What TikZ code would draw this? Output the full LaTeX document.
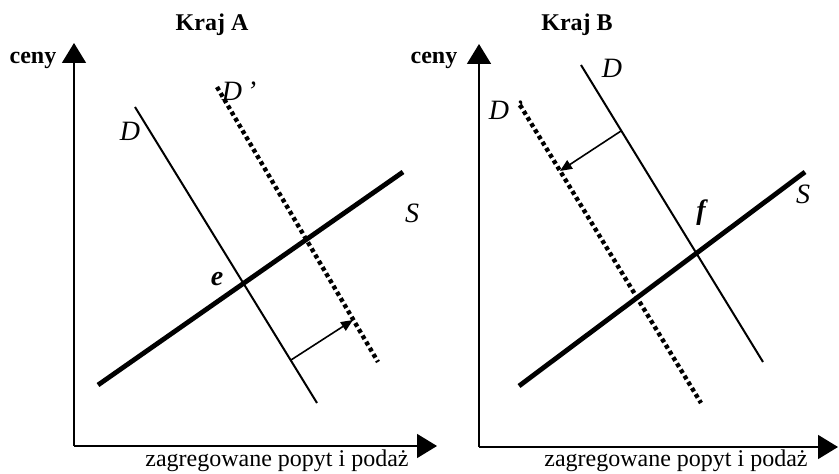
\documentclass[tikz,border=0pt]{standalone}
\usepackage{fontspec}
\setmainfont{Liberation Serif}
\usepackage{tikz}
\usetikzlibrary{arrows.meta, positioning, calc}

\begin{document}
\begin{tikzpicture}[
    x=0.5pt, y=-0.5pt,
    axisline/.style={line width=0.8pt, -{Triangle[length=10pt, width=12pt]}},
    demandline/.style={line width=1pt},
    newdemand/.style={line width=2.2pt, dash pattern=on 2pt off 1.6pt},
    supplyline/.style={line width=2.4pt},
    shiftarrow/.style={line width=0.8pt, -{Triangle[length=6pt, width=5pt]}},
    title/.style={font=\fontsize{12}{14}\selectfont\bfseries},
    curvelabel/.style={font=\fontsize{14}{16}\selectfont\itshape},
    pointlabel/.style={font=\fontsize{14}{16}\selectfont\bfseries\itshape},
    axislabel/.style={font=\fontsize{12}{14}\selectfont}
]
    \useasboundingbox (0,0) rectangle (839,474);

    % Kraj A
    \coordinate (oA) at (74,446);
    \coordinate (yA) at (74,43);
    \coordinate (xA) at (437,446);
    \draw[axisline] (oA) -- (yA);
    \draw[axisline] (oA) -- (xA);

    \coordinate (dA0) at (135,107);
    \coordinate (dA1) at (317,403);
    \coordinate (ndA0) at (217,87);
    \coordinate (ndA1) at (378,362);
    \coordinate (sA0) at (98,385);
    \coordinate (sA1) at (403,172);
    \draw[demandline] (dA0) -- (dA1);
    \draw[newdemand] (ndA0) -- (ndA1);
    \draw[supplyline] (sA0) -- (sA1);
    \coordinate (shA0) at (291,360);
    \coordinate (shA1) at (353,320);
    \draw[shiftarrow] (shA0) -- (shA1);

    \node[title] (krajA) at (212,25) {Kraj A};
    \node[title] (cenyA) at (33,60) {ceny};
    \node[curvelabel] (labDA) at (130,131) {D};
    \node[curvelabel] (labNDA) at (239,91) {D\,'};
    \node[curvelabel] (labSA) at (412,213) {S};
    \node[pointlabel] (labE) at (217,279) {e};
    \node[axislabel] (qA) at (277,461) {zagregowane popyt i podaż};

    % Kraj B
    \coordinate (oB) at (479,447);
    \coordinate (yB) at (479,44);
    \coordinate (xB) at (838,447);
    \draw[axisline] (oB) -- (yB);
    \draw[axisline] (oB) -- (xB);

    \coordinate (dB0) at (581,65);
    \coordinate (dB1) at (763,362);
    \coordinate (ndB0) at (520,105);
    \coordinate (ndB1) at (701,403);
    \coordinate (sB0) at (519,386);
    \coordinate (sB1) at (805,172);
    \draw[demandline] (dB0) -- (dB1);
    \draw[newdemand] (ndB0) -- (ndB1);
    \draw[supplyline] (sB0) -- (sB1);
    \coordinate (shB0) at (621,131);
    \coordinate (shB1) at (560,171);
    \draw[shiftarrow] (shB0) -- (shB1);

    \node[title] (krajB) at (577,25) {Kraj B};
    \node[title] (cenyB) at (434,60) {ceny};
    \node[curvelabel] (labDB) at (612,68) {D};
    \node[curvelabel] (labNDB) at (506,110) {D\,'};
    \node[curvelabel] (labSB) at (803,194) {S};
    \node[pointlabel] (labF) at (701,213) {f};
    \node[axislabel] (qB) at (676,461) {zagregowane popyt i podaż};
\end{tikzpicture}
\end{document}
